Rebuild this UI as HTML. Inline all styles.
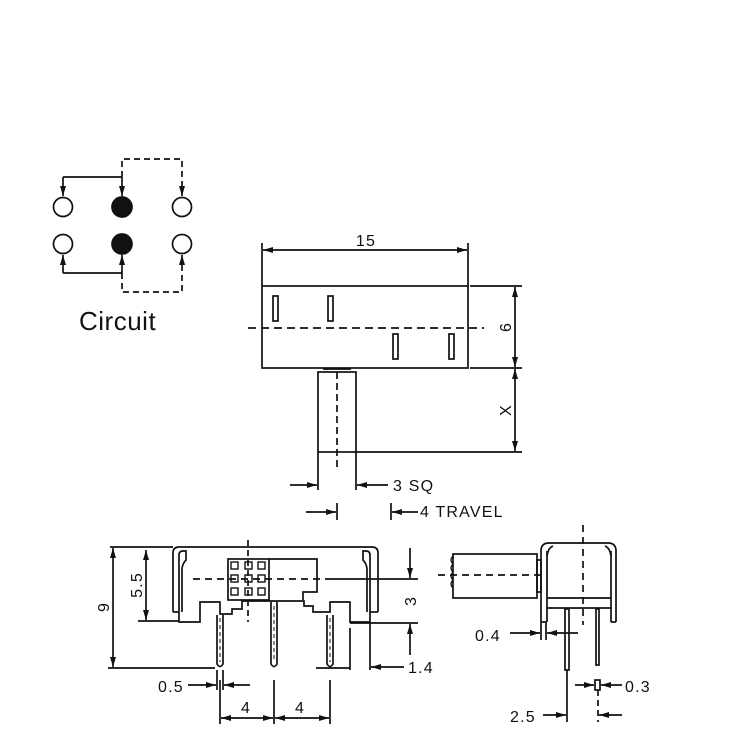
<!DOCTYPE html>
<html><head><meta charset="utf-8"><style>
html,body{margin:0;padding:0;background:#fff;}
svg{display:block;}
text{font-family:"Liberation Sans",Arial,sans-serif;fill:#111;letter-spacing:1.2px;}
</style></head><body>
<svg width="735" height="744" viewBox="0 0 735 744" xmlns="http://www.w3.org/2000/svg">
<defs>
<marker id="a" viewBox="0 0 10 6" refX="10" refY="3" markerWidth="10" markerHeight="6" orient="auto" markerUnits="userSpaceOnUse"><path d="M0,0 L10,3 L0,6 z" fill="#111"/></marker>
</defs>
<g stroke="#111" stroke-width="1.7" fill="none">
<!-- Circuit -->
<circle cx="63" cy="207" r="9.5"/><circle cx="182" cy="207" r="9.5"/>
<circle cx="63" cy="244" r="9.5"/><circle cx="182" cy="244" r="9.5"/>
<circle cx="122" cy="207" r="10" fill="#111"/><circle cx="122" cy="244" r="10" fill="#111"/>
<polyline points="63,177 122,177"/>
<line x1="63" y1="177" x2="63" y2="196" marker-end="url(#a)"/>
<line x1="122" y1="177" x2="122" y2="196" marker-end="url(#a)"/>
<polyline points="63,273 122,273"/>
<line x1="63" y1="273" x2="63" y2="255" marker-end="url(#a)"/>
<line x1="122" y1="273" x2="122" y2="255" marker-end="url(#a)"/>
<g stroke-dasharray="6,4">
<polyline points="122,177 122,159 182,159 182,184"/>
<polyline points="122,273 122,292 182,292 182,268"/>
</g>
<line x1="182" y1="184" x2="182" y2="196" marker-end="url(#a)"/>
<line x1="182" y1="268" x2="182" y2="255" marker-end="url(#a)"/>

<!-- Top view -->
<rect x="262" y="286" width="206" height="82"/>
<line x1="262" y1="243" x2="262" y2="286"/><line x1="468" y1="243" x2="468" y2="286"/>
<line x1="290" y1="250" x2="263" y2="250" marker-end="url(#a)"/>
<line x1="290" y1="250" x2="467" y2="250" marker-end="url(#a)"/>
<rect x="273" y="296" width="5" height="25"/><rect x="328" y="296" width="5" height="25"/>
<rect x="393" y="334" width="5" height="25"/><rect x="449" y="334" width="5" height="25"/>
<line x1="248" y1="328" x2="484" y2="328" stroke-dasharray="8,5"/>
<line x1="470" y1="286" x2="522" y2="286"/><line x1="470" y1="368" x2="522" y2="368"/>
<line x1="515" y1="330" x2="515" y2="287" marker-end="url(#a)"/>
<line x1="515" y1="330" x2="515" y2="367" marker-end="url(#a)"/>
<rect x="318" y="372" width="38" height="80"/>
<line x1="323" y1="369" x2="351" y2="369"/>
<line x1="337" y1="372" x2="337" y2="470" stroke-dasharray="7,4"/>
<line x1="356" y1="452" x2="522" y2="452"/>
<line x1="515" y1="410" x2="515" y2="369" marker-end="url(#a)"/>
<line x1="515" y1="410" x2="515" y2="451" marker-end="url(#a)"/>
<line x1="318" y1="452" x2="318" y2="490"/><line x1="356" y1="452" x2="356" y2="490"/>
<line x1="290" y1="485" x2="317" y2="485" marker-end="url(#a)"/>
<line x1="388" y1="485" x2="357" y2="485" marker-end="url(#a)"/>
<line x1="337" y1="503" x2="337" y2="520"/><line x1="391" y1="503" x2="391" y2="520"/>
<line x1="306" y1="512" x2="336" y2="512" marker-end="url(#a)"/>
<line x1="418" y1="512" x2="392" y2="512" marker-end="url(#a)"/>

<!-- Front view -->
<path d="M173,612 L173,553 Q173,547 179,547 L372,547 Q378,547 378,553 L378,612"/>
<line x1="173" y1="612" x2="179" y2="612"/><line x1="370" y1="612" x2="378" y2="612"/>
<path d="M179,612 L179,555 Q179,551 183,551 L186,551 L186,560 Q182,564 182,570 L182,612"/>
<path d="M370,612 L370,555 Q370,551 366,551 L363,551 L363,560 Q367,564 367,570 L367,612"/>
<polyline points="179,612 179,622 200,622 200,602 220,602 220,614 232,614 232,609 242,609 242,601 304,601 304,606 313,606 313,612 330,612 330,602 350,602 350,622 370,622 370,612"/>
<rect x="228" y="559" width="41" height="41"/>
<polyline points="269,559 317,559 317,592 303,592 303,600"/>
<g stroke-width="1.4">
<rect x="231" y="562" width="7" height="7"/><rect x="245" y="562" width="7" height="7"/><rect x="258" y="562" width="7" height="7"/>
<rect x="231" y="575" width="7" height="7"/><rect x="245" y="575" width="7" height="7"/><rect x="258" y="575" width="7" height="7"/>
<rect x="231" y="588" width="7" height="7"/><rect x="245" y="588" width="7" height="7"/><rect x="258" y="588" width="7" height="7"/>
</g>
<line x1="193" y1="579" x2="330" y2="579" stroke-dasharray="7,5"/>
<line x1="330" y1="579" x2="418" y2="579"/>
<line x1="248" y1="540" x2="248" y2="622" stroke-dasharray="6,4"/>
<path d="M217,615 L217,664 Q220,669 223,664 L223,615"/>
<path d="M271,602 L271,664 Q274,669 277,664 L277,602"/>
<path d="M327,615 L327,664 Q330,669 333,664 L333,615"/>
<g stroke-width="1" stroke-dasharray="4,3"><line x1="220" y1="618" x2="220" y2="662"/><line x1="274" y1="606" x2="274" y2="662"/><line x1="330" y1="618" x2="330" y2="662"/></g>
<!-- dims front -->
<line x1="110" y1="547" x2="173" y2="547"/>
<line x1="108" y1="668" x2="215" y2="668"/>
<line x1="113" y1="600" x2="113" y2="548" marker-end="url(#a)"/>
<line x1="113" y1="600" x2="113" y2="667" marker-end="url(#a)"/>
<line x1="138" y1="621" x2="179" y2="621"/>
<line x1="146" y1="585" x2="146" y2="550" marker-end="url(#a)"/>
<line x1="146" y1="585" x2="146" y2="620" marker-end="url(#a)"/>
<line x1="350" y1="623" x2="418" y2="623"/>
<line x1="410" y1="548" x2="410" y2="578" marker-end="url(#a)"/>
<line x1="410" y1="655" x2="410" y2="624" marker-end="url(#a)"/>
<line x1="316" y1="668" x2="350" y2="668"/>
<line x1="350" y1="628" x2="350" y2="670"/>
<line x1="370" y1="622" x2="370" y2="670"/>
<line x1="404" y1="667" x2="371" y2="667" marker-end="url(#a)"/>
<line x1="217" y1="670" x2="217" y2="690"/><line x1="223" y1="670" x2="223" y2="690"/>
<line x1="188" y1="685" x2="216" y2="685" marker-end="url(#a)"/>
<line x1="250" y1="685" x2="224" y2="685" marker-end="url(#a)"/>
<line x1="220" y1="680" x2="220" y2="724"/><line x1="274" y1="680" x2="274" y2="724"/><line x1="330" y1="680" x2="330" y2="724"/>
<line x1="247" y1="718" x2="221" y2="718" marker-end="url(#a)"/>
<line x1="247" y1="718" x2="273" y2="718" marker-end="url(#a)"/>
<line x1="302" y1="718" x2="275" y2="718" marker-end="url(#a)"/>
<line x1="302" y1="718" x2="329" y2="718" marker-end="url(#a)"/>

<!-- Side view -->
<path d="M541,622 L541,551 Q541,543 549,543 L608,543 Q616,543 616,551 L616,622"/>
<line x1="541" y1="622" x2="547" y2="622"/><line x1="611" y1="622" x2="616" y2="622"/>
<line x1="547" y1="551" x2="547" y2="622"/><line x1="611" y1="551" x2="611" y2="622"/>
<path d="M547,556 Q548,548 553,546"/><path d="M611,556 Q610,548 605,546"/>
<line x1="547" y1="598" x2="611" y2="598"/>
<line x1="547" y1="608" x2="611" y2="608"/>
<rect x="453" y="554" width="84" height="44"/>
<rect x="537" y="560" width="4" height="32"/>
<path d="M453,556 q-4,4 0,8 q-4,4 0,8 q-4,4 0,8 q-4,4 0,8" stroke-width="1.2"/>
<line x1="438" y1="575" x2="540" y2="575" stroke-dasharray="7,5"/>
<line x1="583" y1="525" x2="583" y2="625" stroke-dasharray="7,5"/>
<rect x="565" y="609" width="4" height="61"/>
<rect x="596" y="609" width="3" height="56"/>
<rect x="595" y="680" width="5" height="10"/>
<line x1="541" y1="622" x2="541" y2="640"/><line x1="546" y1="622" x2="546" y2="640"/>
<line x1="510" y1="633" x2="540" y2="633" marker-end="url(#a)"/>
<line x1="578" y1="633" x2="547" y2="633" marker-end="url(#a)"/>
<line x1="575" y1="685" x2="594" y2="685" marker-end="url(#a)"/>
<line x1="622" y1="685" x2="601" y2="685" marker-end="url(#a)"/>
<line x1="567" y1="670" x2="567" y2="722"/>
<line x1="598" y1="690" x2="598" y2="722" stroke-dasharray="6,4"/>
<line x1="543" y1="715" x2="566" y2="715" marker-end="url(#a)"/>
<line x1="622" y1="715" x2="599" y2="715" marker-end="url(#a)"/>
</g>
<!-- labels -->
<text x="79" y="330" font-size="26" style="letter-spacing:0.5px">Circuit</text>
<text x="366" y="246" font-size="16" text-anchor="middle">15</text>
<text x="0" y="0" font-size="16" text-anchor="middle" transform="translate(511,327) rotate(-90)">6</text>
<text x="0" y="0" font-size="16" text-anchor="middle" transform="translate(511,410) rotate(-90)">X</text>
<text x="393" y="491" font-size="16">3 SQ</text>
<text x="420" y="517" font-size="16">4 TRAVEL</text>
<text x="0" y="0" font-size="16" text-anchor="middle" transform="translate(109,607) rotate(-90)">9</text>
<text x="0" y="0" font-size="16" text-anchor="middle" transform="translate(142,585) rotate(-90)">5.5</text>
<text x="0" y="0" font-size="16" text-anchor="middle" transform="translate(416,601) rotate(-90)">3</text>
<text x="408" y="673" font-size="16">1.4</text>
<text x="158" y="692" font-size="16">0.5</text>
<text x="246" y="713" font-size="16" text-anchor="middle">4</text>
<text x="300" y="713" font-size="16" text-anchor="middle">4</text>
<text x="475" y="641" font-size="16">0.4</text>
<text x="625" y="692" font-size="16">0.3</text>
<text x="510" y="722" font-size="16">2.5</text>
</svg>
</body></html>
